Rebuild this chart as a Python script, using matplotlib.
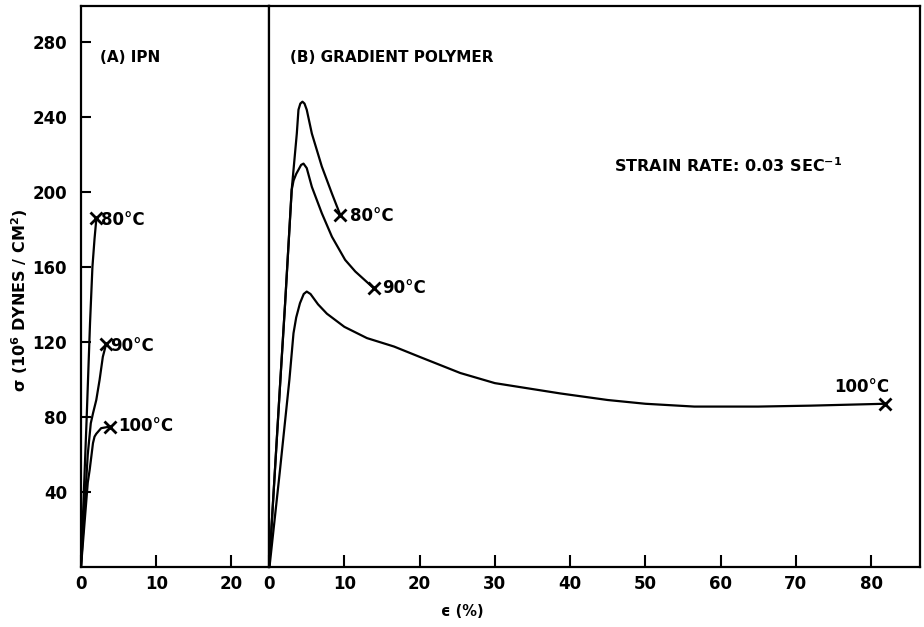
import matplotlib
matplotlib.use("Agg")
from matplotlib import pyplot as plt

# (A) IPN - strain (%) vs stress (10^6 dynes/cm^2)
ipn_80_strain = [0, 0.74, 1.2, 1.52, 1.8, 2.05]
ipn_80_stress = [0, 78, 130, 160, 175, 186]
ipn_90_strain = [0, 0.9, 1.3, 1.6, 2.03, 2.47, 2.9, 3.35]
ipn_90_stress = [0, 60, 76.6, 82, 89, 99.7, 112, 119]
ipn_100_strain = [0, 0.9, 1.15, 1.37, 1.59, 1.8, 2.03, 2.68, 3.8]
ipn_100_stress = [0, 45, 51.7, 58.8, 66, 69.5, 71, 74, 74.8]

# (B) gradient polymer
grad_80_strain = [0, 1.5, 2.13, 3.0, 3.68, 3.9, 4.15, 4.43, 4.7, 5.0, 5.68, 7.0, 8.35, 9.45]
grad_80_stress = [0, 100, 140.8, 201, 231, 243.7, 247, 248, 247, 243.7, 231, 213.5, 199, 187.7]
grad_90_strain = [0, 1.5, 2.13, 3.0, 3.25, 3.6, 3.9, 4.25, 4.57, 5.0, 5.68, 7.0, 8.35, 10.1, 11.45, 13.9]
grad_90_stress = [0, 100, 140.8, 201, 206, 209.5, 211.7, 214.3, 215, 212.6, 202.6, 188.6, 176, 163.7, 157.5, 148.6]
grad_100_strain = [0.05, 1.4, 2.7, 3.24, 3.6, 4.1, 4.6, 5.0, 5.5, 6.5, 7.68, 10, 13, 16.6,
                   20, 25.4, 30, 38.7, 45, 50, 56.5, 65, 72, 81.8]
grad_100_stress = [0, 50, 100, 124.6, 133, 140.6, 145.5, 146.8, 145.5, 140, 135, 128, 122, 117.5,
                   112, 103.4, 98, 92.5, 89, 87, 85.5, 85.5, 86, 87]

FS = 12
LW = 1.6
plt.rcParams['font.weight'] = 'bold'
plt.rcParams['mathtext.default'] = 'bf'

fig, (axA, axB) = plt.subplots(1, 2, figsize=(9.24, 6.27), dpi=100, sharey=True,
                               gridspec_kw={'width_ratios': [25, 86.5], 'wspace': 0})
fig.subplots_adjust(left=81/924, right=920/924, bottom=1-567/627, top=1-6/627)

def curve(ax, x, y):
    ax.plot(x, y, color='black', linewidth=LW, solid_capstyle='round', solid_joinstyle='round')
    ax.plot(x[-1], y[-1], marker='x', color='black', markersize=8, markeredgewidth=2)

curve(axA, ipn_80_strain, ipn_80_stress)
curve(axA, ipn_90_strain, ipn_90_stress)
curve(axA, ipn_100_strain, ipn_100_stress)
curve(axB, grad_80_strain, grad_80_stress)
curve(axB, grad_90_strain, grad_90_stress)
curve(axB, grad_100_strain, grad_100_stress)

axA.set_xlim(0, 25)
axB.set_xlim(0, 86.5)
axA.set_ylim(0, 299)
axA.set_yticks([40, 80, 120, 160, 200, 240, 280])
axA.set_xticks([0, 10, 20])
axB.set_xticks([0, 10, 20, 30, 40, 50, 60, 70, 80])

for ax in (axA, axB):
    ax.tick_params(axis='x', direction='in', length=8.5, width=1.5, labelsize=FS, pad=6)
    for s in ax.spines.values():
        s.set_linewidth(1.6)
axA.tick_params(axis='y', direction='in', length=7.5, width=1.5, labelsize=FS, pad=10)
axB.tick_params(axis='y', left=False, labelleft=False)

fig.text(20/924, 1-300/627, r'$\sigma$ (10$^{6}$ DYNES / CM$^{2}$)', fontsize=11.5,
         rotation=90, ha='center', va='center')
fig.text(462/924, 1-612/627, 'ϵ (%)', fontsize=10.5, ha='center', va='center')

axA.text(2.5, 271.5, '(A) IPN', fontsize=11, va='center')
axB.text(2.8, 271.5, '(B) GRADIENT POLYMER', fontsize=11, va='center')
axB.text(45.8, 214, r'STRAIN RATE: 0.03 SEC$^{-1}$', fontsize=11.5, va='center')

axA.text(2.6, 185, '80°C', fontsize=FS, va='center')
axA.text(3.9, 118, '90°C', fontsize=FS, va='center')
axA.text(5.0, 75, '100°C', fontsize=FS, va='center')
axB.text(10.8, 187, '80°C', fontsize=FS, va='center')
axB.text(15.0, 148.8, '90°C', fontsize=FS, va='center')
axB.text(82.4, 96, '100°C', fontsize=FS, va='center', ha='right')

plt.savefig('out.png', dpi=100)
